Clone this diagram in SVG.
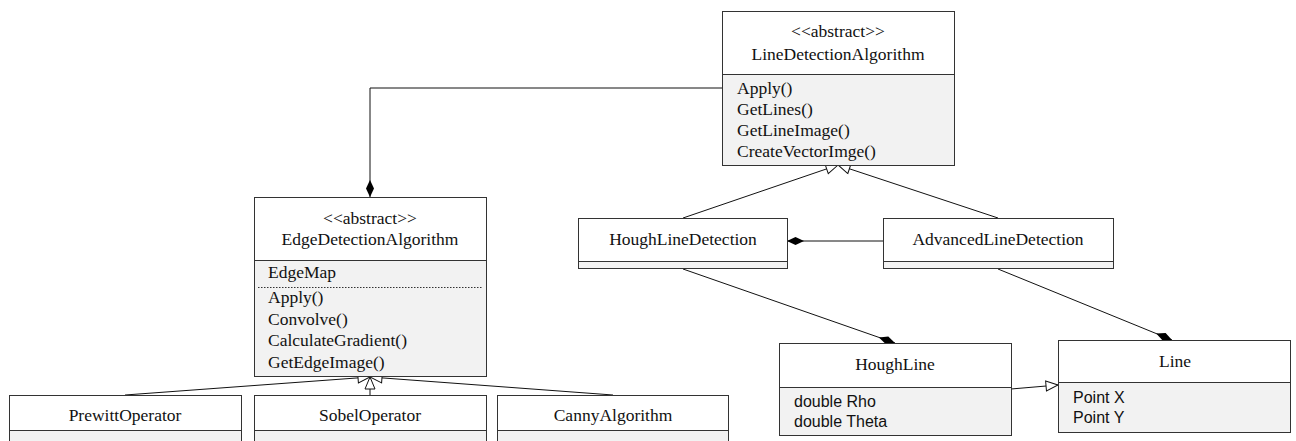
<svg xmlns="http://www.w3.org/2000/svg" width="1296" height="441" viewBox="0 0 1296 441">
<style>
.hd{fill:#fff;stroke:#333;stroke-width:1}
.cp{fill:#f2f2f2;stroke:#333;stroke-width:1}
.t{font-family:"Liberation Serif","Times New Roman",serif;font-size:17.5px;fill:#111}
.c{text-anchor:middle}
.s{font-family:"Liberation Sans",Arial,sans-serif;font-size:16px;fill:#111}
.ln{fill:none;stroke:#111;stroke-width:1}
.dot{stroke:#333;stroke-width:1;stroke-dasharray:1.5 1.5}
</style>
<defs>
<marker id="gen" viewBox="-1 -1 14 12" refX="12" refY="5" markerWidth="14" markerHeight="12" orient="auto" markerUnits="userSpaceOnUse"><path d="M0,0 L12,5 L0,10 Z" fill="#fff" stroke="#111" stroke-width="1"/></marker>
<marker id="comp" viewBox="0 0 17 8" refX="17" refY="4" markerWidth="17" markerHeight="8" orient="auto" markerUnits="userSpaceOnUse"><path d="M0,4 L8.5,0 L17,4 L8.5,8 Z" fill="#000"/></marker>
</defs>

<g id="connectors">
<path class="ln" d="M722,88 H370 V197" marker-end="url(#comp)"/>
<path class="ln" d="M883,241 H787" marker-end="url(#comp)"/>
<path class="ln" d="M683,269 L895,343" marker-end="url(#comp)"/>
<path class="ln" d="M998,269 L1172,340" marker-end="url(#comp)"/>
<path class="ln" d="M683,218 L838,165" marker-end="url(#gen)"/>
<path class="ln" d="M998,218 L838,165" marker-end="url(#gen)"/>
<path class="ln" d="M125,395 L370,377" marker-end="url(#gen)"/>
<path class="ln" d="M370,395 L370,377" marker-end="url(#gen)"/>
<path class="ln" d="M613,395 L370,377" marker-end="url(#gen)"/>
<path class="ln" d="M1011,389 L1058,385" marker-end="url(#gen)"/>
</g>

<g id="LineDetectionAlgorithm">
<rect class="hd" x="722.5" y="11.5" width="232" height="63"/>
<rect class="cp" x="722.5" y="74.5" width="232" height="91"/>
<text class="t c" x="838" y="37">&lt;&lt;abstract&gt;&gt;</text>
<text class="t c" x="838" y="60">LineDetectionAlgorithm</text>
<text class="t" x="737" y="94">Apply()</text>
<text class="t" x="737" y="115">GetLines()</text>
<text class="t" x="737" y="136">GetLineImage()</text>
<text class="t" x="737" y="157">CreateVectorImge()</text>
</g>

<g id="EdgeDetectionAlgorithm">
<rect class="hd" x="254.5" y="197.5" width="232" height="63"/>
<rect class="cp" x="254.5" y="260.5" width="232" height="116"/>
<line class="dot" x1="258" y1="287.5" x2="483" y2="287.5"/>
<text class="t c" x="370" y="224">&lt;&lt;abstract&gt;&gt;</text>
<text class="t c" x="370" y="245">EdgeDetectionAlgorithm</text>
<text class="t" x="268" y="278">EdgeMap</text>
<text class="t" x="268" y="303">Apply()</text>
<text class="t" x="268" y="324.5">Convolve()</text>
<text class="t" x="268" y="346">CalculateGradient()</text>
<text class="t" x="268" y="367.5">GetEdgeImage()</text>
</g>

<g id="PrewittOperator">
<rect class="hd" x="9.5" y="395.5" width="232" height="35"/>
<rect class="cp" x="9.5" y="430.5" width="232" height="20"/>
<text class="t c" x="125" y="421">PrewittOperator</text>
</g>

<g id="SobelOperator">
<rect class="hd" x="254.5" y="395.5" width="232" height="35"/>
<rect class="cp" x="254.5" y="430.5" width="232" height="20"/>
<text class="t c" x="370" y="421">SobelOperator</text>
</g>

<g id="CannyAlgorithm">
<rect class="hd" x="497.5" y="395.5" width="231" height="35"/>
<rect class="cp" x="497.5" y="430.5" width="231" height="20"/>
<text class="t c" x="613" y="421">CannyAlgorithm</text>
</g>

<g id="HoughLineDetection">
<rect class="hd" x="578.5" y="218.5" width="209" height="43"/>
<rect class="cp" x="578.5" y="261.5" width="209" height="7"/>
<text class="t c" x="683" y="245">HoughLineDetection</text>
</g>

<g id="AdvancedLineDetection">
<rect class="hd" x="883.5" y="218.5" width="230" height="43"/>
<rect class="cp" x="883.5" y="261.5" width="230" height="7"/>
<text class="t c" x="998" y="245">AdvancedLineDetection</text>
</g>

<g id="HoughLine">
<rect class="hd" x="779.5" y="343.5" width="232" height="44"/>
<rect class="cp" x="779.5" y="387.5" width="232" height="48"/>
<text class="t c" x="895" y="370">HoughLine</text>
<text class="s" x="794" y="407">double Rho</text>
<text class="s" x="794" y="427">double Theta</text>
</g>

<g id="Line">
<rect class="hd" x="1058.5" y="340.5" width="232" height="42"/>
<rect class="cp" x="1058.5" y="382.5" width="232" height="50"/>
<text class="t c" x="1175" y="367">Line</text>
<text class="s" x="1073" y="403">Point X</text>
<text class="s" x="1073" y="423">Point Y</text>
</g>
</svg>
